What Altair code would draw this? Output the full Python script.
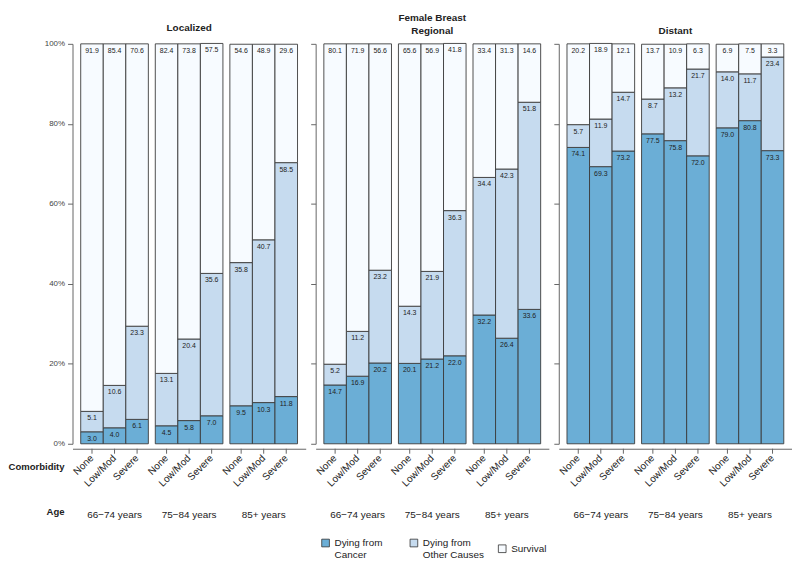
import altair as alt
import pandas as pd

ages = ["66−74 years", "75−84 years", "85+ years"]
comorbidities = ["None", "Low/Mod", "Severe"]
outcomes = ["Dying from\nCancer", "Dying from\nOther Causes", "Survival"]
outcome_colors = ["#6baed6", "#c6dbef", "#f7fbff"]
stages = ["Localized", "Regional", "Distant"]
panel_titles = [["", "Localized"], ["Female Breast", "Regional"], ["", "Distant"]]

# values listed age-major: (66-74: None, Low/Mod, Severe), (75-84: ...), (85+: ...)
localized_cancer = [3.0, 4.0, 6.1, 4.5, 5.8, 7.0, 9.5, 10.3, 11.8]
localized_other = [5.1, 10.6, 23.3, 13.1, 20.4, 35.6, 35.8, 40.7, 58.5]
localized_survival = [91.9, 85.4, 70.6, 82.4, 73.8, 57.5, 54.6, 48.9, 29.6]

regional_cancer = [14.7, 16.9, 20.2, 20.1, 21.2, 22.0, 32.2, 26.4, 33.6]
regional_other = [5.2, 11.2, 23.2, 14.3, 21.9, 36.3, 34.4, 42.3, 51.8]
regional_survival = [80.1, 71.9, 56.6, 65.6, 56.9, 41.8, 33.4, 31.3, 14.6]

distant_cancer = [74.1, 69.3, 73.2, 77.5, 75.8, 72.0, 79.0, 80.8, 73.3]
distant_other = [5.7, 11.9, 14.7, 8.7, 13.2, 21.7, 14.0, 11.7, 23.4]
distant_survival = [20.2, 18.9, 12.1, 13.7, 10.9, 6.3, 6.9, 7.5, 3.3]

series = {
    "Localized": (localized_cancer, localized_other, localized_survival),
    "Regional": (regional_cancer, regional_other, regional_survival),
    "Distant": (distant_cancer, distant_other, distant_survival),
}

records = []
for stage, triple in series.items():
    for i in range(9):
        for k, name in enumerate(outcomes):
            records.append(dict(stage=stage, age=ages[i // 3], comorb=comorbidities[i % 3],
                                outcome=name, order=k, value=triple[k][i]))
df = pd.DataFrame(records)

W = 235
H = 403

legend = alt.Legend(orient="none", legendX=250, legendY=498, direction="horizontal",
                    columns=3, gridAlign="all", columnPadding=12, title=None,
                    symbolType="square", symbolSize=60, symbolStrokeColor="#333",
                    symbolStrokeWidth=0.8, labelFontSize=10, labelColor="#222",
                    labelExpr="split(datum.label, '\\n')", labelLimit=200)


def panel(stage, title, first):
    base = alt.Chart(df[df.stage == stage])
    x = alt.X("age:N", sort=ages,
              scale=alt.Scale(paddingInner=0.093, paddingOuter=0.11),
              axis=alt.Axis(title=None, ticks=False, labelAngle=0, labelPadding=61,
                            labelFontSize=10, labelColor="#222", domainColor="#666",
                            offset=5))
    xo = alt.XOffset("comorb:N", sort=comorbidities,
                     scale=alt.Scale(paddingInner=0, paddingOuter=0))
    yaxis = alt.Axis(title=None, values=[0, 20, 40, 60, 80, 100], grid=False,
                     labels=first, labelExpr="datum.value + '%'", labelFontSize=8,
                     labelColor="#444", tickSize=5, tickColor="#666", domainColor="#666",
                     labelPadding=3)
    stacked = base.transform_stack(stack="value", groupby=["age", "comorb"], as_=["v0", "v1"],
                                   sort=[alt.SortField("order", "ascending")])
    bars = stacked.mark_bar(stroke="#3a3a3a", strokeWidth=0.9).encode(
        x=x, xOffset=xo,
        y=alt.Y("v0:Q", scale=alt.Scale(domain=[0, 100], nice=False), axis=yaxis),
        y2="v1:Q",
        color=alt.Color("outcome:N", scale=alt.Scale(domain=outcomes, range=outcome_colors),
                        legend=legend),
    )
    labels = stacked.mark_text(baseline="top", dy=3, fontSize=7, color="#222").encode(
        x=x, xOffset=xo, y="v1:Q", text=alt.Text("value:Q", format=".1f"))
    tickbase = base.transform_filter(alt.datum.order == 0)
    ticks = tickbase.mark_rule(color="#666").encode(
        x=x, xOffset=xo, y=alt.value(H + 5), y2=alt.value(H + 10))
    comlabels = tickbase.mark_text(angle=315, align="right", baseline="middle", fontSize=10,
                                   color="#222").encode(
        x=x, xOffset=xo, y=alt.value(H + 13), text="comorb:N")
    layers = [bars, labels, ticks, comlabels]
    if first:
        rowlab = alt.Chart(pd.DataFrame({"t": ["Comorbidity", "Age"], "dy": [H + 23, H + 69]}))
        layers.append(rowlab.mark_text(align="right", baseline="middle", fontSize=9.6,
                                       fontWeight="bold", color="#222").encode(
            x=alt.value(-8), y=alt.Y("dy:Q", scale=None), text="t:N"))
    return alt.layer(*layers).properties(
        width=W, height=H,
        title=alt.TitleParams(text=title, fontSize=10, fontWeight="bold", anchor="middle",
                              lineHeight=13, offset=7, color="#222"))


chart = alt.hconcat(
    panel("Localized", panel_titles[0], True),
    panel("Regional", panel_titles[1], False),
    panel("Distant", panel_titles[2], False),
    spacing=4,
).resolve_scale(color="shared").resolve_legend(color="shared").properties(
    padding={"left": 0, "top": 0, "right": 0, "bottom": 0}
).configure(font="Liberation Sans").configure_view(stroke=None)

chart.save("out.html", embed_options={"renderer": "svg", "actions": False})
